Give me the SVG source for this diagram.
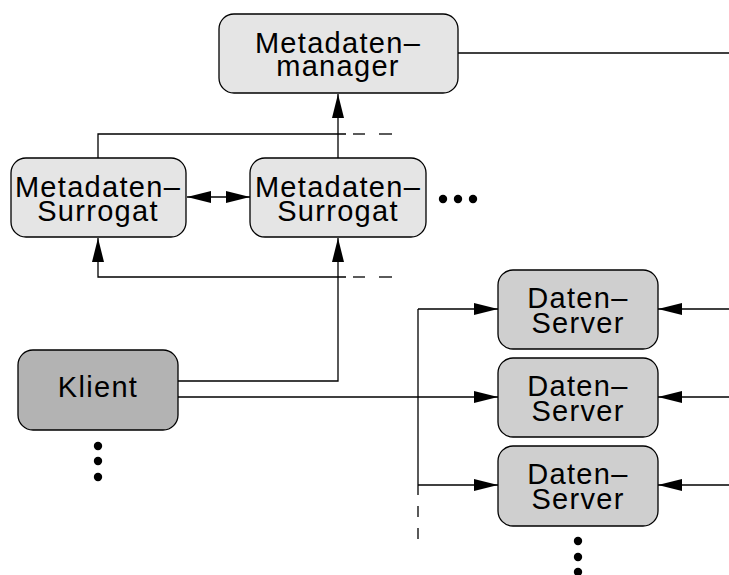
<svg xmlns="http://www.w3.org/2000/svg" width="729" height="575" viewBox="0 0 729 575">
  <style>
    .box { stroke: #000; stroke-width: 1.3; }
    .meta { fill: #e5e5e5; }
    .data { fill: #cfcfcf; }
    .client { fill: #b3b3b3; }
    .lbl { font-family: "Liberation Sans", Arial, Helvetica, sans-serif; font-size: 29px; fill: #000; text-anchor: middle; letter-spacing: 1.3px; }
    .ln { stroke: #000; stroke-width: 1.3; fill: none; }
    .dot { fill: #000; }
  </style>
  <defs>
    <marker id="ah" viewBox="0 0 24 12" refX="24" refY="6" markerWidth="24" markerHeight="12" markerUnits="userSpaceOnUse" orient="auto-start-reverse">
      <path d="M0,0 L24,6 L0,12 Z" fill="#000"/>
    </marker>
  </defs>

  <!-- connectors -->
  <g id="connectors">
    <!-- manager to the right edge -->
    <line class="ln" x1="458" y1="53" x2="729" y2="53"/>
    <!-- surrogate 2 up to manager -->
    <line class="ln" x1="338" y1="158" x2="338" y2="94" marker-end="url(#ah)"/>
    <!-- upper bus from surrogate 1 -->
    <polyline class="ln" points="98,158 98,134 346,134"/>
    <line class="ln" x1="353" y1="134" x2="365" y2="134"/>
    <line class="ln" x1="379" y1="134" x2="392" y2="134"/>
    <!-- surrogate to surrogate -->
    <line class="ln" x1="187" y1="197" x2="250" y2="197" marker-start="url(#ah)" marker-end="url(#ah)"/>
    <!-- lower bus into surrogate 1 -->
    <polyline class="ln" points="346,277 98,277 98,238" marker-end="url(#ah)"/>
    <line class="ln" x1="353" y1="277" x2="365" y2="277"/>
    <line class="ln" x1="379" y1="277" x2="392" y2="277"/>
    <!-- client up to surrogate 2 -->
    <polyline class="ln" points="178,381 338,381 338,238" marker-end="url(#ah)"/>
    <!-- client to data server 2 -->
    <line class="ln" x1="178" y1="397" x2="498" y2="397" marker-end="url(#ah)"/>
    <!-- vertical data bus -->
    <line class="ln" x1="418" y1="309" x2="418" y2="495"/>
    <line class="ln" x1="418" y1="506" x2="418" y2="517"/>
    <line class="ln" x1="418" y1="528" x2="418" y2="539"/>
    <line class="ln" x1="418" y1="309" x2="498" y2="309" marker-end="url(#ah)"/>
    <line class="ln" x1="418" y1="485" x2="498" y2="485" marker-end="url(#ah)"/>
    <!-- inputs from the right edge -->
    <line class="ln" x1="729" y1="309" x2="658" y2="309" marker-end="url(#ah)"/>
    <line class="ln" x1="729" y1="397" x2="658" y2="397" marker-end="url(#ah)"/>
    <line class="ln" x1="729" y1="485" x2="658" y2="485" marker-end="url(#ah)"/>
  </g>

  <g id="manager">
    <rect class="box meta" x="219" y="14" width="239" height="79" rx="15"/>
    <text class="lbl" x="338" y="53">Metadaten–</text>
    <text class="lbl" x="338" y="76">manager</text>
  </g>

  <g id="surrogate1">
    <rect class="box meta" x="11" y="158" width="175" height="79" rx="15"/>
    <text class="lbl" x="98" y="197">Metadaten–</text>
    <text class="lbl" x="98" y="221">Surrogat</text>
  </g>

  <g id="surrogate2">
    <rect class="box meta" x="250" y="158" width="176" height="79" rx="15"/>
    <text class="lbl" x="338" y="197">Metadaten–</text>
    <text class="lbl" x="338" y="221">Surrogat</text>
  </g>

  <g id="more-surrogates">
    <circle class="dot" cx="443" cy="199" r="4.2"/>
    <circle class="dot" cx="458" cy="199" r="4.2"/>
    <circle class="dot" cx="473" cy="199" r="4.2"/>
  </g>

  <g id="client">
    <rect class="box client" x="18" y="350" width="160" height="80" rx="15"/>
    <text class="lbl" x="98" y="397">Klient</text>
  </g>

  <g id="more-clients">
    <circle class="dot" cx="98" cy="446" r="4.2"/>
    <circle class="dot" cx="98" cy="461" r="4.2"/>
    <circle class="dot" cx="98" cy="477" r="4.2"/>
  </g>

  <g id="server1">
    <rect class="box data" x="498" y="270" width="160" height="79" rx="15"/>
    <text class="lbl" x="578" y="308">Daten–</text>
    <text class="lbl" x="578" y="333">Server</text>
  </g>

  <g id="server2">
    <rect class="box data" x="498" y="358" width="160" height="79" rx="15"/>
    <text class="lbl" x="578" y="396">Daten–</text>
    <text class="lbl" x="578" y="421">Server</text>
  </g>

  <g id="server3">
    <rect class="box data" x="498" y="446" width="160" height="80" rx="15"/>
    <text class="lbl" x="578" y="484">Daten–</text>
    <text class="lbl" x="578" y="509">Server</text>
  </g>

  <g id="more-servers">
    <circle class="dot" cx="578" cy="541" r="4.2"/>
    <circle class="dot" cx="578" cy="557" r="4.2"/>
    <circle class="dot" cx="578" cy="572" r="4.2"/>
  </g>
</svg>
